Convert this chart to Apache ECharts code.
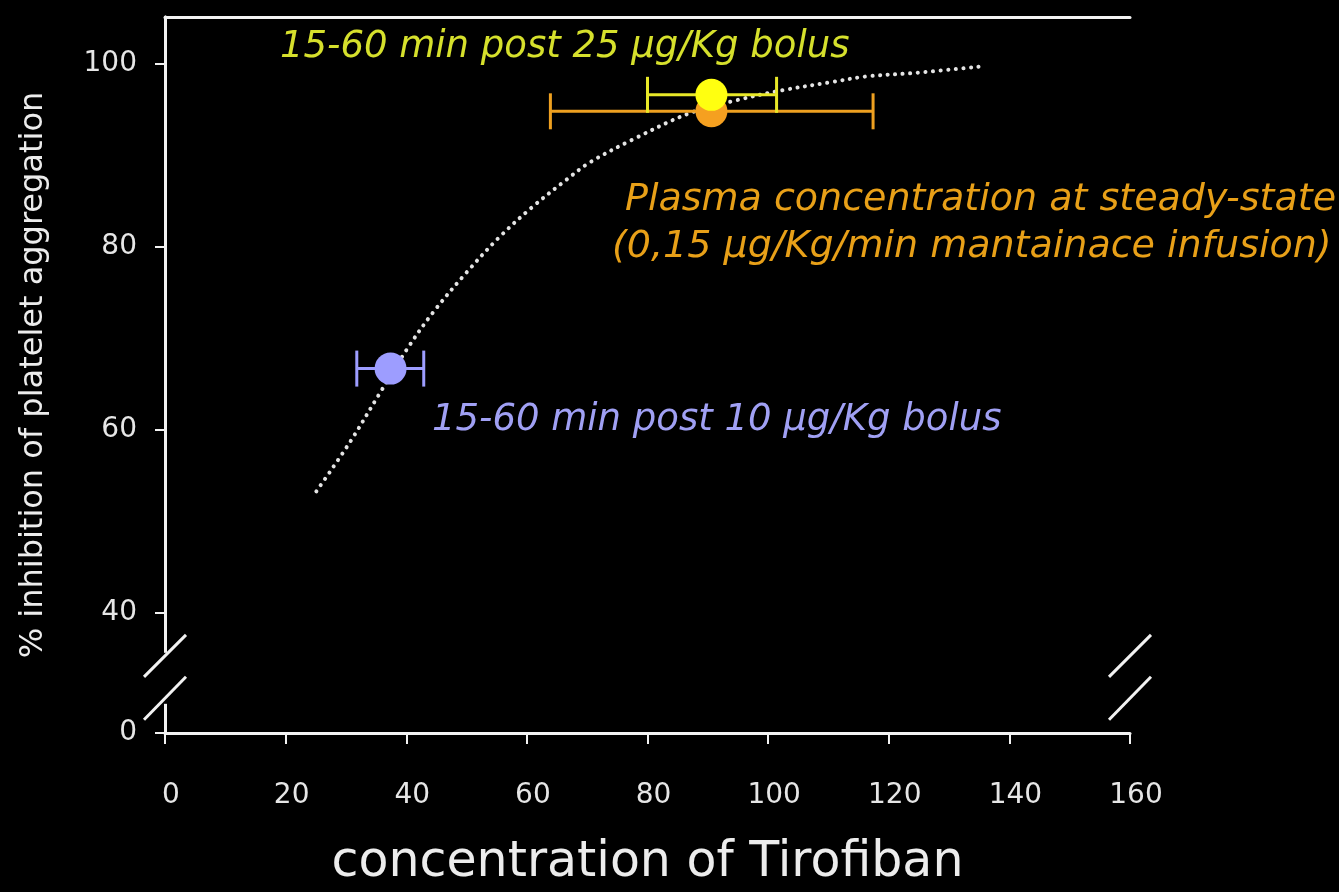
<!DOCTYPE html>
<html><head><meta charset="utf-8">
<script src="https://cdn.jsdelivr.net/npm/echarts@6/dist/echarts.min.js"></script>
<style>html,body{margin:0;padding:0;background:#000}#c{width:1339px;height:892px}</style>
</head><body><div id="c"></div>
<script>
// ---- data ----
const curveX = [25.1, 30.6, 35.6, 40.0, 44.4, 50.0, 55.5, 61.0, 66.5, 70.4, 77.5, 87.0, 94.7, 102.4, 110.6, 116.2, 124.5, 135.5];
const curveY = [53.3, 58.6, 64.0, 68.7, 72.8, 77.2, 81.1, 84.4, 87.3, 89.2, 91.7, 94.6, 96.0, 97.1, 98.0, 98.6, 99.0, 99.7];

const markerNames = ['15-60 min post 10 µg/Kg bolus', 'steady-state infusion', '15-60 min post 25 µg/Kg bolus'];
const markerX     = [37.4, 90.6, 90.6];
const markerY     = [66.7, 94.8, 96.6];
const markerXLow  = [31.8, 63.9, 80.0];
const markerXHigh = [42.9, 117.4, 101.4];

const xTickValues = [0, 20, 40, 60, 80, 100, 120, 140, 160];
const yTickLabels = [0, 40, 60, 80, 100];
// the y axis is broken between 0 and 40: 0 is drawn at this axis position
const Y_ZERO_POS = 26.9;
const Y_MAX = 105.1;

const annotations = [
  '15-60 min post 25 µg/Kg bolus',
  'Plasma concentration at steady-state',
  '(0,15 µg/Kg/min mantainace infusion)',
  '15-60 min post 10 µg/Kg bolus'
];

// ---- styles ----
const markerColors = ['#9d9dff', '#f5a020', '#ffff10'];
const barColors    = ['#9d9dff', '#eea020', '#e8e828'];
const FONT = '"DejaVu Sans", sans-serif';
const AXIS_W = 3;

const yPos = v => (v === 0 ? Y_ZERO_POS : v);
const yCustom = yTickLabels.map(yPos);

const chart = echarts.init(document.getElementById('c'), null, {renderer: 'canvas'});

const option = {
  backgroundColor: '#000',
  animation: false,
  grid: {left: 165, right: 209, top: 17, bottom: 159, outerBoundsMode: 'none', containLabel: false},
  xAxis: [{
    type: 'value', min: xTickValues[0], max: xTickValues[xTickValues.length - 1], interval: 20,
    name: 'concentration of Tirofiban', nameLocation: 'middle', nameGap: 106,
    nameTextStyle: {color: '#ececec', fontFamily: FONT, fontSize: 49},
    axisLine: {show: true, lineStyle: {color: '#f2f2f2', width: AXIS_W}},
    axisTick: {show: true, length: 11, lineStyle: {color: '#f2f2f2', width: 2}},
    axisLabel: {color: '#e6e6e6', fontFamily: FONT, fontSize: 28, margin: 49, padding: [0, 0, 0, 12]},
    splitLine: {show: false}
  }, {
    type: 'value', position: 'top', min: 0, max: 160,
    axisLine: {show: true, lineStyle: {color: '#f2f2f2', width: AXIS_W}},
    axisTick: {show: false}, axisLabel: {show: false}, splitLine: {show: false}
  }],
  yAxis: [{
    type: 'value', min: Y_ZERO_POS, max: Y_MAX,
    name: '% inhibition of platelet aggregation', nameLocation: 'middle', nameGap: 115, nameRotate: 90,
    nameTextStyle: {color: '#ececec', fontFamily: FONT, fontSize: 32},
    axisLine: {show: true, lineStyle: {color: '#f2f2f2', width: AXIS_W}},
    axisTick: {show: true, length: 10, customValues: yCustom, lineStyle: {color: '#f2f2f2', width: 2}},
    axisLabel: {
      color: '#e6e6e6', fontFamily: FONT, fontSize: 28, margin: 28, customValues: yCustom,
      formatter: v => (v < 40 ? '0' : String(Math.round(v)))
    },
    splitLine: {show: false}
  }, {
    type: 'value', position: 'right', min: Y_ZERO_POS, max: Y_MAX,
    axisLine: {show: true, lineStyle: {color: '#f2f2f2', width: AXIS_W}},
    axisTick: {show: false}, axisLabel: {show: false}, splitLine: {show: false}
  }],
  series: [{
    type: 'line', name: 'fit', z: 2,
    data: curveX.map((x, i) => [x, curveY[i]]),
    smooth: 0.35, showSymbol: false, symbol: 'none',
    lineStyle: {color: '#e4e4e4', width: 4, type: [0.1, 7.5], cap: 'round'}
  }, {
    type: 'custom', name: 'error bars', z: 3,
    data: markerX.map((x, i) => [markerXLow[i], markerXHigh[i], markerY[i]]),
    renderItem(params, api) {
      const y = api.value(2);
      const p1 = api.coord([api.value(0), y]);
      const p2 = api.coord([api.value(1), y]);
      const h = 18;
      const st = {stroke: barColors[params.dataIndex], lineWidth: 3};
      return {type: 'group', children: [
        {type: 'line', shape: {x1: p1[0], y1: p1[1], x2: p2[0], y2: p2[1]}, style: st},
        {type: 'line', shape: {x1: p1[0], y1: p1[1] - h, x2: p1[0], y2: p1[1] + h}, style: st},
        {type: 'line', shape: {x1: p2[0], y1: p2[1] - h, x2: p2[0], y2: p2[1] + h}, style: st}
      ]};
    }
  }, {
    type: 'scatter', name: 'means', z: 4, symbol: 'circle', symbolSize: 32,
    data: markerX.map((x, i) => ({name: markerNames[i], value: [x, markerY[i]], itemStyle: {color: markerColors[i], opacity: 1}}))
  }]
};
chart.setOption(option);

// axis-break decoration and annotation texts
const p40 = chart.convertToPixel({gridIndex: 0}, [0, 40]);
const p0 = chart.convertToPixel({gridIndex: 0}, [0, Y_ZERO_POS]);
const pR = chart.convertToPixel({gridIndex: 0}, [160, Y_ZERO_POS]);
const yc = p0[1] - 0.46 * (p0[1] - p40[1]);
function breakMark(x) {
  const s = {stroke: '#f2f2f2', lineWidth: 3};
  return [
    {type: 'rect', shape: {x: x - 6, y: yc - 25, width: 12, height: 51}, style: {fill: '#000'}, z: 100},
    {type: 'line', shape: {x1: x - 21, y1: yc - 1, x2: x + 21, y2: yc - 43}, style: s, z: 101},
    {type: 'line', shape: {x1: x - 21, y1: yc + 42, x2: x + 21, y2: yc - 1}, style: s, z: 101}
  ];
}
const textFont = 'italic 37px ' + FONT;
const textFont2 = 'italic 38px ' + FONT;
chart.setOption({
  graphic: [
    ...breakMark(p0[0]),
    ...breakMark(pR[0]),
    {type: 'text', left: 280, top: 29, z: 110, style: {text: annotations[0], fill: '#d6e02c', font: textFont}},
    {type: 'text', left: 625, top: 181, z: 110, style: {text: annotations[1], fill: '#e8a018', font: textFont2}},
    {type: 'text', left: 612, top: 228, z: 110, style: {text: annotations[2], fill: '#e8a018', font: textFont2}},
    {type: 'text', left: 432, top: 402, z: 110, style: {text: annotations[3], fill: '#a0a0f4', font: textFont}}
  ]
});
</script></body></html>
